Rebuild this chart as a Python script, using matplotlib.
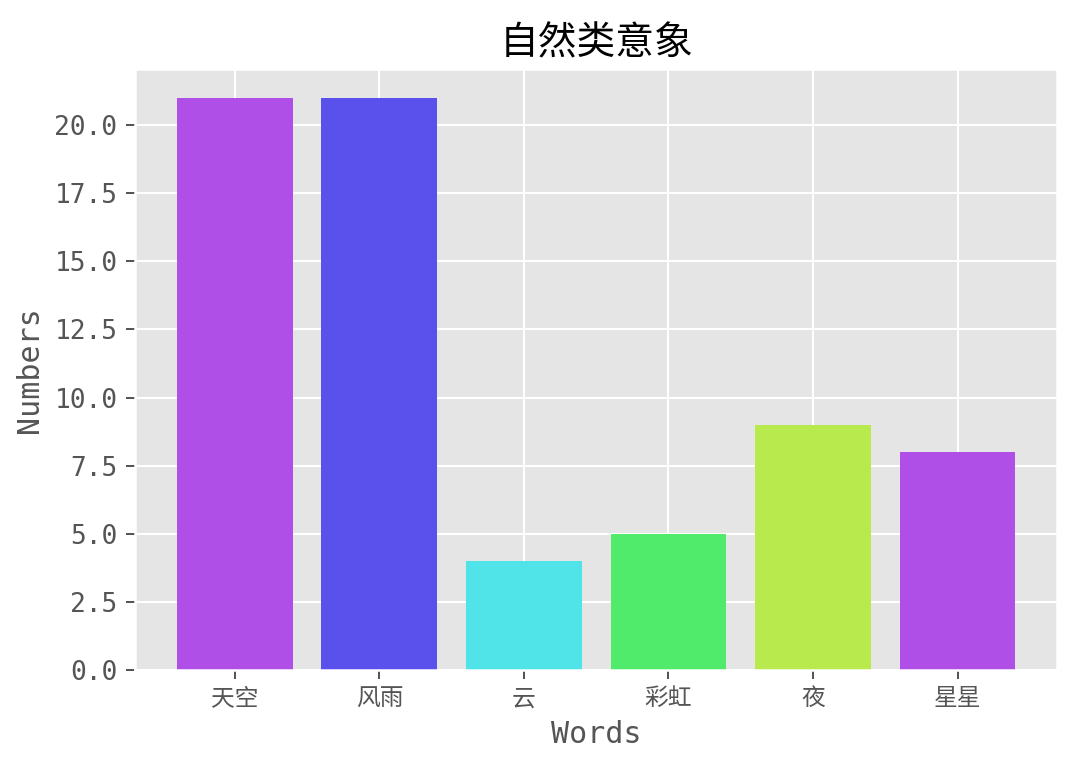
import matplotlib
matplotlib.use('Agg')
import matplotlib.pyplot as plt

words = ['天空', '风雨', '云', '彩虹', '夜', '星星']
numbers = [21, 21, 4, 5, 9, 8]
bar_colors = ['#b04fe8', '#5a50ec', '#50e3e8', '#50eb6a', '#b8ea4e', '#b04fe8']

plt.style.use('ggplot')
plt.rcParams['font.family'] = ['DejaVu Sans Mono', 'Noto Sans CJK SC']
plt.rcParams['axes.unicode_minus'] = False

fig = plt.figure(figsize=(6, 4.2778), dpi=180)
ax = fig.add_axes([0.125, 0.13, 0.854, 0.78])
ax.bar(range(len(words)), numbers, color=bar_colors, width=0.8)
ax.set_xticks(range(len(words)))
ax.set_xticklabels(words, family=['Noto Sans CJK SC'], fontsize=9.5)
ax.tick_params(axis='y', labelsize=10.5)
ax.set_xlabel('Words', fontsize=12, color='#555555')
ax.set_ylabel('Numbers', fontsize=12, color='#555555')
ax.set_title('自然类意象', family=['Noto Sans CJK SC'], fontsize=15.5)

fig.savefig('out.png', dpi=180)
